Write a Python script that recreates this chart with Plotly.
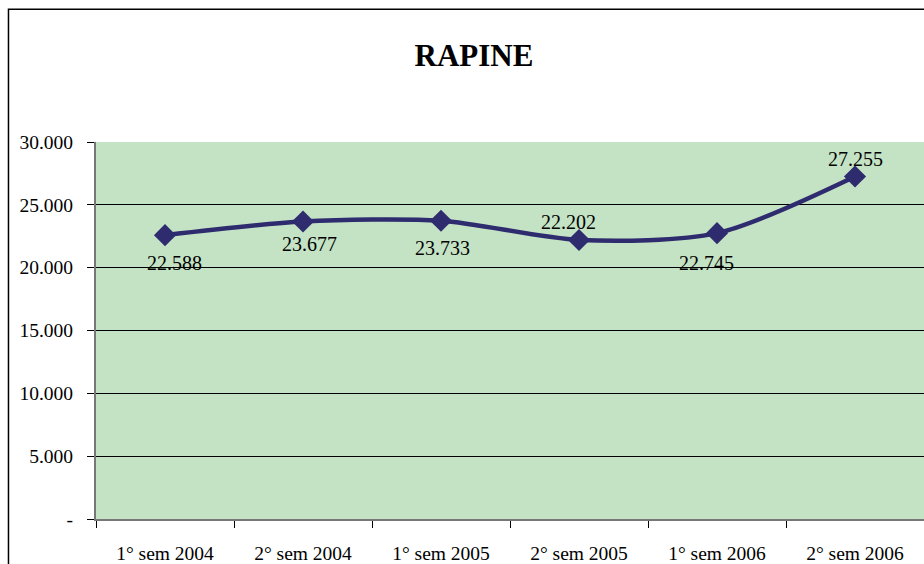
import plotly.graph_objects as go

categories = ["1° sem 2004", "2° sem 2004", "1° sem 2005", "2° sem 2005", "1° sem 2006", "2° sem 2006"]
values = [22588, 23677, 23733, 22202, 22745, 27255]
label_shift = [(9, -28), (6, -23), (1, -27), (-11, 18), (-11, -30), (0, 18)]
y_ticks = [0, 5000, 10000, 15000, 20000, 25000, 30000]
y_tick_text = ["-", "5.000", "10.000", "15.000", "20.000", "25.000", "30.000"]

FONT = "Liberation Serif, Times New Roman, serif"
LINE = "#2E2B6F"

fig = go.Figure(
    go.Scatter(
        x=categories,
        y=values,
        mode="lines+markers",
        line=dict(color=LINE, width=4.5, shape="spline", smoothing=0.8),
        marker=dict(symbol="diamond", size=17, color=LINE),
        hoverinfo="skip",
        showlegend=False,
    )
)

for cat, v, (dx, dy) in zip(categories, values, label_shift):
    fig.add_annotation(
        x=cat, y=v, text=f"{v:,}".replace(",", "."),
        showarrow=False, xshift=dx, yshift=dy,
        font=dict(family=FONT, size=20, color="black"),
    )

# cornice esterna del grafico (solo lati visibili)
fig.add_shape(
    type="rect", xref="paper", yref="paper",
    x0=-0.1057, x1=1.2, y0=-0.3, y1=1.352,
    line=dict(color="black", width=1.5), fillcolor="rgba(0,0,0,0)",
)

fig.update_layout(
    width=924,
    height=564,
    margin=dict(l=96, r=0, t=142, b=43),
    paper_bgcolor="white",
    plot_bgcolor="#C4E2C4",
    title=dict(
        text="<b>RAPINE</b>", x=0.513, xref="container", y=0.903, yref="container",
        xanchor="center", yanchor="middle",
        font=dict(family=FONT, size=31, color="black"),
    ),
    font=dict(family=FONT, size=19.5, color="black"),
)
fig.update_xaxes(
    type="category",
    tickson="boundaries",
    ticks="outside",
    ticklen=7,
    tickcolor="black",
    showgrid=False,
    showline=True,
    linecolor="#777777",
    linewidth=2,
    tickfont=dict(family=FONT, size=19.5),
    ticklabelstandoff=16,
    range=[-0.5, 5.5],
)
fig.update_yaxes(
    range=[0, 30000],
    tickvals=y_ticks,
    ticktext=y_tick_text,
    ticks="outside",
    ticklen=7,
    tickcolor="black",
    showgrid=True,
    gridcolor="black",
    gridwidth=1,
    showline=True,
    linecolor="#777777",
    linewidth=2,
    zeroline=False,
    tickfont=dict(family=FONT, size=19.5),
    ticklabelstandoff=10,
)

# niente margine della pagina: il grafico occupa tutta la finestra
fig.write_html(
    "out.html",
    config={"displayModeBar": False},
    post_script="document.body.style.margin='0';document.body.style.overflow='hidden';",
)
